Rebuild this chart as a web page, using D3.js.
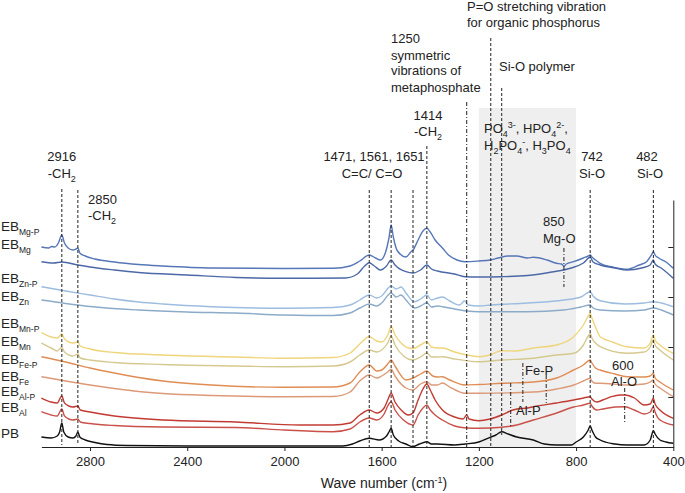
<!DOCTYPE html>
<html><head><meta charset="utf-8">
<script src="https://cdn.jsdelivr.net/npm/d3@7/dist/d3.min.js"></script>
<style>
body{margin:0;background:#fff;}
svg text{font-family:"Liberation Sans",Arial,sans-serif;fill:#222;}
</style></head>
<body><svg id="c" width="685" height="493"></svg>
<script>
// ---- DATA: [wavenumber (cm-1), offset absorbance (a.u.)] ----
const PB = [[3000,10],[2960,9],[2935,11],[2925,15],[2916,24],[2908,15],[2890,10],[2870,9],[2858,11],[2850,15],[2842,10],[2820,7],[2780,4.5],[2730,2.5],[2650,1.5],[2400,1],[2000,1],[1760,1],[1720,3],[1690,6],[1651,8.7],[1610,7],[1580,11],[1570,15],[1561,18.7],[1552,12],[1530,6],[1500,3],[1471,0.3],[1445,3],[1414,5.3],[1395,3],[1370,3],[1300,2],[1257,3],[1200,5],[1154,9.7],[1130,12],[1106,15.3],[1080,13],[1044,10],[976,7],[930,3],[880,2],[820,2],[800,5],[770,10],[750,17],[742,21],[735,17],[720,10],[701,7],[640,3],[591,2],[520,2],[495,7],[482,16.3],[475,13],[455,7],[430,5],[400,3.7]];
const EB_Al = [[3000,35.3],[2960,32],[2935,31],[2916,38],[2905,31],[2870,27],[2850,28],[2840,25],[2800,23.5],[2700,21.5],[2500,20],[2200,19.5],[2000,17],[1800,15.3],[1730,18],[1690,25],[1651,29],[1620,27],[1590,33],[1575,41],[1561,45.3],[1545,37],[1510,27],[1471,22],[1450,32],[1430,39],[1414,42],[1400,37],[1380,32],[1350,27],[1300,21],[1250,19],[1200,18.7],[1106,19.7],[1044,22],[976,27],[880,34],[810,40],[770,42],[742,43.7],[735,41],[715,37],[690,38],[640,40],[600,40.3],[560,37],[520,33],[495,35],[482,40.3],[475,35],[455,27],[400,22]];
const EB_AlP = [[3000,49],[2960,45],[2935,44],[2916,51],[2905,44],[2870,40],[2850,41],[2840,37],[2800,35],[2700,31],[2500,27],[2200,25],[1936,22],[1800,22],[1730,24],[1690,32],[1651,37],[1620,34],[1590,39],[1575,47],[1561,53.7],[1545,45],[1520,37],[1490,32],[1471,34],[1450,47],[1430,58],[1414,63],[1400,57],[1380,47],[1350,37],[1300,30],[1265,28],[1250,32],[1240,28],[1200,26.3],[1154,28],[1106,32],[1060,37],[1044,38],[1000,39],[976,40.3],[880,44],[810,47],[770,49],[742,50.3],[735,48],[715,45],[690,47],[655,50.3],[620,52],[600,52],[560,49],[520,42],[495,43],[482,48.7],[475,43],[455,37],[400,28.7]];
const EB_Fe = [[3000,70.3],[2900,66],[2800,62],[2700,58.5],[2600,55.5],[2500,53.5],[2300,51.5],[2000,50.3],[1800,50.5],[1730,55],[1690,66],[1651,72],[1620,69],[1600,71],[1575,75],[1561,77.7],[1545,71],[1500,59],[1471,57],[1440,63],[1414,65.3],[1395,62],[1370,62],[1350,64],[1320,60],[1257,53.7],[1200,53.7],[976,55],[880,58],[810,62],[770,66],[742,68.7],[735,66],[720,63.7],[701,63.7],[591,62],[520,63],[495,65],[482,67],[475,63],[455,59],[400,50.3]];
const EB_FeP = [[3000,90.3],[2900,85],[2800,79],[2700,74],[2600,69.5],[2500,66],[2300,62],[2000,59.7],[1800,60],[1730,64],[1690,75],[1651,82],[1620,76],[1600,77],[1575,83],[1561,87],[1545,81],[1500,67],[1470,69],[1440,73],[1414,76],[1390,71],[1370,70],[1350,70.3],[1320,67],[1257,62],[1200,62.5],[1106,63.7],[976,65],[880,69],[810,77],[770,82],[742,87],[735,84],[720,79],[701,77],[640,73],[591,70.3],[520,70],[495,71],[482,73.7],[475,69],[455,65],[400,57]];
const EB_Mn = [[3000,104],[2960,99],[2935,96],[2916,99.7],[2905,95],[2870,91],[2850,93],[2840,89],[2800,87],[2700,84.5],[2500,82.5],[2200,81],[2000,80.3],[1800,81],[1730,85],[1690,92],[1651,97],[1620,95],[1600,97],[1575,104],[1561,111],[1545,102],[1510,91],[1471,87],[1440,90],[1414,94],[1395,90],[1370,90],[1350,90.3],[1300,88],[1200,85.3],[1106,87],[976,88.7],[880,92],[810,93.7],[770,102],[750,111],[742,113.7],[735,109],[720,104],[701,100.3],[591,93.7],[520,95],[495,100],[482,107],[475,102],[455,97],[400,87]];
const EB_MnP = [[3000,114.3],[2960,110],[2935,109],[2916,113],[2905,108],[2870,104],[2850,105],[2840,101],[2800,98],[2700,94.5],[2500,92],[2200,90],[2000,88.7],[1800,89.5],[1730,94],[1690,103],[1651,110.3],[1620,106],[1600,105],[1575,112],[1561,120.3],[1545,112],[1520,104],[1490,99],[1471,98.5],[1440,102],[1414,105.3],[1395,100],[1370,99],[1350,99],[1300,95],[1250,92],[1200,90.3],[1154,92],[1106,96.3],[1050,96],[976,99],[880,102],[810,110.3],[770,122],[750,131],[742,133.7],[735,129],[720,120],[701,110.3],[650,105],[591,100.3],[520,99],[495,104],[482,112],[475,107],[455,102],[400,93.7]];
const EB_Zn = [[3000,147],[2900,143.5],[2800,140.5],[2600,137],[2400,135],[2200,134],[2000,132],[1800,131.5],[1730,134],[1690,139],[1651,143],[1620,141],[1600,144],[1561,154],[1540,150],[1520,152],[1500,147],[1465,139],[1440,141],[1414,144.3],[1395,140],[1370,141],[1350,140.3],[1300,138],[1250,136],[1200,135.3],[1000,135.3],[850,137],[780,140],[742,142],[730,139],[701,137],[600,136],[520,137],[482,139],[450,137],[400,132]];
const EB_ZnP = [[3000,160.3],[2900,156],[2800,152],[2700,148],[2600,145],[2500,143],[2300,140.3],[2000,138.7],[1800,139.5],[1730,142],[1690,147],[1651,152],[1620,149],[1600,151],[1561,161],[1540,158],[1520,160],[1500,154],[1465,145.3],[1440,148],[1414,152],[1395,147],[1370,149],[1350,150],[1320,146],[1280,142],[1258,146.3],[1245,142],[1200,141],[1150,142],[1000,144],[850,147],[780,150],[742,155.3],[730,151],[701,146.3],[600,143],[520,144],[482,145.3],[450,144],[400,140.3]];
const EB_Mg = [[3000,185.3],[2950,184],[2916,185],[2850,182],[2800,180],[2700,177],[2600,174.5],[2400,172],[2200,169.5],[2000,168.7],[1750,169],[1700,173],[1670,181],[1651,184.3],[1630,181],[1605,177],[1580,181],[1561,187],[1545,182],[1500,175.3],[1471,174],[1440,177],[1414,182],[1395,178],[1370,176],[1300,173],[1257,170.3],[1200,170],[1106,170.3],[1000,171.5],[900,175],[820,179],[770,184],[742,189.7],[730,185],[701,182],[640,179],[591,177],[530,179],[495,182],[482,187],[475,183],[450,179],[400,168.7]];
const EB_MgP = [[3000,200],[2970,199],[2958,200.5],[2945,200],[2930,204],[2916,212],[2905,204],[2890,199],[2870,197],[2858,198],[2850,199],[2842,194],[2820,191],[2780,188],[2700,185],[2600,182.5],[2500,181],[2300,179],[2000,178.5],[1800,178.7],[1730,181],[1690,186],[1651,192],[1625,189],[1605,187],[1585,194],[1570,209],[1561,222],[1552,210],[1535,196],[1500,190],[1480,195],[1471,197],[1450,207],[1430,216],[1414,218.7],[1400,215],[1380,207],[1350,199],[1325,192],[1290,187],[1257,185.3],[1200,186],[1154,187],[1120,189],[1080,191],[1044,191],[1000,189],[976,189.7],[920,187],[880,183.7],[860,183],[850,181],[840,183],[810,185.3],[770,189],[750,191],[742,192],[735,190],[720,187],[701,183.7],[650,180],[591,177.7],[540,182],[510,185.3],[490,192],[482,195.3],[475,192],[460,189],[430,185],[400,178.7]];

const seriesNames = ["EB_Mg-P","EB_Mg","EB_Zn-P","EB_Zn","EB_Mn-P","EB_Mn","EB_Fe-P","EB_Fe","EB_Al-P","EB_Al","PB"];
const seriesData  = [EB_MgP,EB_Mg,EB_ZnP,EB_Zn,EB_MnP,EB_Mn,EB_FeP,EB_Fe,EB_AlP,EB_Al,PB];
const seriesColors = ["#5676b8","#4c68a6","#9dbde0","#8cabc9","#efd57c","#d6c98f","#e08d55","#dc9a78","#c23b33","#c9514a","#111111"];
const labelBase = ["EB","EB","EB","EB","EB","EB","EB","EB","EB","EB","PB"];
const labelSub  = ["Mg-P","Mg","Zn-P","Zn","Mn-P","Mn","Fe-P","Fe","Al-P","Al",""];
const labelY    = [226,244,278,296,323,341,359,376,391,407,433];

const xTicks = [2800,2400,2000,1600,1200,800,400];
const yTicks = [50,100,150,200];
const shadeRange = [1200,800];
// vertical marker lines: [wavenumber, top, bottom, style]
const markers = [[2916,258,2,"d"],[2850,257,2,"d"],[1651,257,0,"d"],[1561,257,0,"d"],[1471,257,0,"d"],[1414,301,0,"d"],[1250,345,0,"dd"],[1151,409,0,"d"],[1106,359,12,"d"],[742,257,0,"d"],[482,257,0,"d"],[850,199,160,"dd"],[1019,84,45,"dd"],[923,72,44,"dd"],[1069,64,20,"dd"],[600,59,24,"dd"]];

// ---- CHART ----
const svg = d3.select("#c");
const x = d3.scaleLinear().domain([3000,400]).range([41.4,673.3]);
const y = d3.scaleLinear().domain([0,247]).range([447,200]);

svg.append("rect").attr("x",x(shadeRange[0])).attr("width",x(shadeRange[1])-x(shadeRange[0]))
  .attr("y",y(339)).attr("height",y(0)-y(339)).attr("fill","#efefef");

const line = d3.line().x(d=>x(d[0])).y(d=>y(d[1])).curve(d3.curveMonotoneX);
seriesData.forEach((s,i)=>{
  svg.append("path").attr("d",line(s)).attr("fill","none").attr("stroke",seriesColors[i])
    .attr("stroke-width",1.4).attr("stroke-linejoin","round");
});

markers.forEach(m=>{
  svg.append("line").attr("x1",x(m[0])).attr("x2",x(m[0])).attr("y1",y(m[1])).attr("y2",y(m[2]))
    .attr("stroke","#222").attr("stroke-width",1)
    .attr("stroke-dasharray",m[3]==="d"?"3,2":"4,2,1,2");
});

const gx = svg.append("g").attr("transform",`translate(0,${y(0)})`)
  .call(d3.axisBottom(x).tickValues(xTicks).tickSize(4).tickSizeOuter(0).tickFormat(d3.format("d")));
gx.selectAll("text").attr("font-size",13).attr("dy","0.9em");
gx.select(".domain").attr("stroke","#222");
gx.selectAll(".tick line").attr("stroke","#222");

const gy = svg.append("g").attr("transform",`translate(${x(400)},0)`)
  .call(d3.axisLeft(y).tickValues(yTicks).tickSize(5).tickSizeOuter(0).tickFormat(""));
gy.select(".domain").attr("stroke","#222");
gy.selectAll(".tick line").attr("stroke","#222");

svg.append("text").attr("x",384).attr("y",488).attr("text-anchor","middle").attr("font-size",14)
  .html('Wave number (cm<tspan dy="-5" font-size="9">-1</tspan><tspan dy="5">)</tspan>');

// legend labels
labelBase.forEach((b,i)=>{
  const t = svg.append("text").attr("x",1).attr("y",labelY[i]+5).attr("font-size",13.5);
  t.append("tspan").text(b);
  if(labelSub[i]) t.append("tspan").attr("dy",4).attr("font-size",8.5).text(labelSub[i]);
});

// annotations
function txt(xp,yp,html,anchor,fill){
  svg.append("text").attr("x",xp).attr("y",yp).attr("font-size",13)
    .attr("text-anchor",anchor||"start").attr("fill",fill||"#222").html(html);
}
const CH2 = '-CH<tspan dy="4" font-size="9">2</tspan>';
txt(x(2916),161,"2916","middle"); txt(x(2916),178,CH2,"middle");
txt(88,204,"2850"); txt(88,220,CH2);
txt(374,161,"1471, 1561, 1651","middle"); txt(372,178,"C=C/ C=O","middle");
txt(428,120,"1414","middle"); txt(428,136,CH2,"middle");
txt(391,43,"1250"); txt(391,59.5,"symmetric"); txt(391,75,"vibrations of"); txt(391,92,"metaphosphate");
txt(467,11,"P=O stretching vibration"); txt(467,27,"for organic phosphorus");
txt(499,71,"Si-O polymer");
txt(484,133,'PO<tspan dy="4" font-size="9">4</tspan><tspan dy="-9" font-size="9">3-</tspan><tspan dy="5">, HPO</tspan><tspan dy="4" font-size="9">4</tspan><tspan dy="-9" font-size="9">2-</tspan><tspan dy="5">,</tspan>',"start","#555");
txt(484,150,'H<tspan dy="4" font-size="9">2</tspan><tspan dy="-4">PO</tspan><tspan dy="4" font-size="9">4</tspan><tspan dy="-9" font-size="9">-</tspan><tspan dy="5">, H</tspan><tspan dy="4" font-size="9">3</tspan><tspan dy="-4">PO</tspan><tspan dy="4" font-size="9">4</tspan>',"start","#555");
txt(592,161,"742","middle"); txt(592,178,"Si-O","middle");
txt(647,161,"482","middle"); txt(650,178,"Si-O","middle");
txt(543,226,"850"); txt(543,243,"Mg-O");
txt(525,375,"Fe-P");
txt(516,415,"Al-P");
txt(612,370,"600"); txt(611,386,"Al-O");
</script></body></html>
